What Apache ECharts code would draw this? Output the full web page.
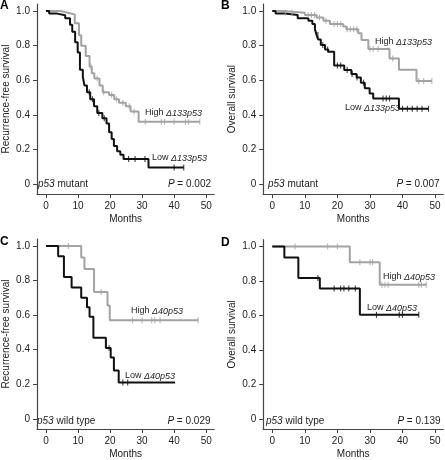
<!DOCTYPE html>
<html><head><meta charset="utf-8">
<script src="https://cdn.jsdelivr.net/npm/echarts@6/dist/echarts.min.js"></script>
<style>html,body{margin:0;padding:0;background:#fff}#c{width:445px;height:460px}</style>
</head><body><div id="c"></div><script>
// Tick labels
const monthTicks = [0, 10, 20, 30, 40, 50];
const survTicks = [0, 0.2, 0.4, 0.6, 0.8, 1.0];
const panelLetters = ['A', 'B', 'C', 'D'];
const yNames = ['Recurrence-free survival', 'Overall survival', 'Recurrence-free survival', 'Overall survival'];
const groupText = ['p53 mutant', 'p53 mutant', 'p53 wild type', 'p53 wild type'];
const pValues = ['0.002', '0.007', '0.029', '0.139'];
const highLabels = ['High \u0394133p53', 'High \u0394133p53', 'High \u039440p53', 'High \u039440p53'];
const lowLabels = ['Low \u0394133p53', 'Low \u0394133p53', 'Low \u039440p53', 'Low \u039440p53'];

// Panel A: recurrence-free survival, p53 mutant (time in months, survival)
const aHigh = [[0,1],[4.5,0.99],[6.8,0.98],[9,0.93],[10.3,0.86],[11,0.8],[12.4,0.74],[13.6,0.68],[14.3,0.64],[15.1,0.61],[16.7,0.57],[17.7,0.53],[19.7,0.515],[21.3,0.49],[22.8,0.47],[24.9,0.45],[26.4,0.42],[28.9,0.36],[48,0.36]];
const aHighCens = [14,16,18,20.5,22,24,26,27.5,31,36,37,40,43.5,44.5,48];
const aLow = [[0,1],[1,0.985],[3.5,0.975],[6,0.958],[7.5,0.92],[8.2,0.88],[9.1,0.82],[9.9,0.76],[10.6,0.66],[11.5,0.62],[12,0.57],[12.8,0.53],[13.8,0.49],[15,0.45],[16,0.41],[17.6,0.38],[18.9,0.35],[19.7,0.30],[20.5,0.26],[21.2,0.22],[22.2,0.19],[23.2,0.17],[24.2,0.145],[32,0.095],[43,0.095]];
const aLowCens = [13.5,14.5,16.5,18.2,25.8,27.8,30.9,40,43];

// Panel B: overall survival, p53 mutant
const bHigh = [[0,1],[3.4,0.99],[10,0.977],[13.6,0.963],[15.7,0.944],[17.7,0.925],[21.8,0.91],[22.8,0.894],[26.4,0.871],[27.4,0.833],[29.5,0.78],[36,0.725],[38.9,0.66],[44.3,0.595],[49,0.595]];
const bHighCens = [4,6,11,12,13,14.5,16.5,19,20,21,23,24,25,26,30,31,32.5,37,45,46.5,49];
const bLow = [[0,1],[1,0.985],[3.9,0.977],[7.8,0.958],[11.1,0.944],[12.3,0.925],[13.1,0.894],[13.6,0.861],[14.1,0.836],[14.9,0.803],[16.2,0.778],[17.2,0.765],[19,0.685],[22.1,0.659],[24.3,0.636],[25.9,0.616],[27.2,0.586],[28.4,0.553],[29.9,0.524],[31,0.495],[38.9,0.435],[48,0.435]];
const bLowCens = [14,15.5,17,20,21,23,24.5,26,28,34,35,36,40,41.5,43,44.5,46,48];

// Panel C: recurrence-free survival, p53 wild type
const cHigh = [[0,1],[11,0.933],[12,0.867],[15,0.733],[19.2,0.655],[19.9,0.571],[47.5,0.571]];
const cHighCens = [7,17.2,27,30,33,34,35.6,47.5];
const cLow = [[0,1],[3.8,0.94],[5.6,0.82],[8,0.76],[11,0.70],[12.8,0.645],[13.6,0.59],[14.8,0.47],[18.7,0.41],[20.2,0.355],[21.2,0.28],[22.7,0.21],[40.3,0.21]];
const cLowCens = [19.7,24,25.5];

// Panel D: overall survival, p53 wild type
const dHigh = [[0,1],[23.8,0.909],[33,0.778],[47.3,0.778]];
const dHighCens = [7,17,20,26.9,30,30.8,33.7,34.6,35.6,45,45.8,47.3];
const dLow = [[0,1],[3.7,0.937],[8,0.818],[14.6,0.757],[26.9,0.604],[45,0.604]];
const dLowCens = [14,19,21,22,23.5,25.5,32,39,40,45];

const highCurves = [aHigh, bHigh, cHigh, dHigh];
const lowCurves = [aLow, bLow, cLow, dLow];
const highCens = [aHighCens, bHighCens, cHighCens, dHighCens];
const lowCens = [aLowCens, bLowCens, cLowCens, dLowCens];

function survAt(curve, t) {
  let s = curve[0][1];
  for (const p of curve) { if (p[0] <= t + 1e-9) s = p[1]; }
  return s;
}

const GRAY = '#a3a3a3', BLACK = '#111111', AXIS = '#444444', TXT = '#222222';
const FONT = '"Liberation Sans", Arial, Helvetica, sans-serif';

const grids = [
  {left: 34.7, top: 4.1, width: 179.5, height: 190},
  {left: 263.2, top: 4.1, width: 180, height: 190},
  {left: 34.7, top: 239, width: 179.5, height: 192.2},
  {left: 263.2, top: 239.7, width: 180, height: 191.5}
];

const xAxes = [], yAxes = [], series = [];
for (let i = 0; i < 4; i++) {
  xAxes.push({
    gridIndex: i, type: 'value', min: -2.8, max: 52.5,
    axisLine: {show: true, onZero: false, lineStyle: {color: AXIS, width: 1.2}},
    axisTick: {show: true, length: 4, customValues: monthTicks, lineStyle: {color: AXIS, width: 1}},
    axisLabel: {show: true, customValues: monthTicks, fontSize: 10, color: TXT, margin: 7, fontFamily: FONT},
    splitLine: {show: false},
    name: 'Months', nameLocation: 'middle', nameGap: 20,
    nameTextStyle: {fontSize: 10, color: TXT, fontFamily: FONT}
  });
  yAxes.push({
    gridIndex: i, type: 'value', min: -0.058, max: 1.04,
    axisLine: {show: true, onZero: false, lineStyle: {color: AXIS, width: 1.2}},
    axisTick: {show: true, length: 4, customValues: survTicks, lineStyle: {color: AXIS, width: 1}},
    axisLabel: {show: true, customValues: survTicks, fontSize: 10, color: TXT, margin: 7, fontFamily: FONT,
      formatter: v => (Math.abs(v) < 1e-9 ? '0' : v.toFixed(1))},
    splitLine: {show: false},
    name: yNames[i], nameLocation: 'middle', nameGap: 26,
    nameTextStyle: {fontSize: 10, color: TXT, fontFamily: FONT}
  });
  const defs = [
    {curve: highCurves[i], cens: highCens[i], color: GRAY},
    {curve: lowCurves[i], cens: lowCens[i], color: BLACK}
  ];
  for (const d of defs) {
    series.push({
      type: 'line', xAxisIndex: i, yAxisIndex: i, step: 'end', data: d.curve,
      showSymbol: false, symbol: 'none', lineStyle: {color: d.color, width: 2}, silent: true, z: 3
    });
    series.push({
      type: 'scatter', xAxisIndex: i, yAxisIndex: i,
      data: d.cens.map(t => [t, survAt(d.curve, t)]),
      symbol: 'rect', symbolSize: [1.1, 6], itemStyle: {color: d.color}, silent: true, z: 4
    });
  }
}

// text annotations
const labelPos = [
  {hi: [145, 113], lo: [152, 158]},
  {hi: [375, 42], lo: [345, 108]},
  {hi: [131, 311], lo: [125, 376]},
  {hi: [383, 277], lo: [367, 308]}
];
const bottomPos = [
  {g: [38, 184], p: [211, 184]},
  {g: [268, 184], p: [439.5, 184]},
  {g: [37, 421], p: [210.5, 421]},
  {g: [266, 421], p: [440.5, 421]}
];
const letterPos = [[0, 0], [221, 0], [0, 236], [221, 237]];

const rich = {
  n: {fontSize: 9, fontFamily: FONT, fill: TXT},
  i: {fontSize: 9, fontFamily: FONT, fontStyle: 'italic', fill: TXT},
  N: {fontSize: 10, fontFamily: FONT, fill: TXT},
  I: {fontSize: 10, fontFamily: FONT, fontStyle: 'italic', fill: TXT}
};
function splitLabel(s) {
  const k = s.indexOf(' ');
  return '{n|' + s.slice(0, k + 1) + '}{i|' + s.slice(k + 1) + '}';
}
const graphic = [];
for (let i = 0; i < 4; i++) {
  graphic.push({type: 'text', x: letterPos[i][0], y: letterPos[i][1],
    style: {text: panelLetters[i], fontSize: 12, fontWeight: 'bold', fontFamily: FONT, fill: '#000', textVerticalAlign: 'top'}});
  graphic.push({type: 'text', x: labelPos[i].hi[0], y: labelPos[i].hi[1],
    style: {text: splitLabel(highLabels[i]), rich: rich, verticalAlign: 'middle', align: 'left'}});
  graphic.push({type: 'text', x: labelPos[i].lo[0], y: labelPos[i].lo[1],
    style: {text: splitLabel(lowLabels[i]), rich: rich, verticalAlign: 'middle', align: 'left'}});
  const g = groupText[i];
  const k = g.indexOf(' ');
  graphic.push({type: 'text', x: bottomPos[i].g[0], y: bottomPos[i].g[1],
    style: {text: '{I|' + g.slice(0, k) + '}{N|' + g.slice(k) + '}', rich: rich, verticalAlign: 'middle', align: 'left'}});
  graphic.push({type: 'text', x: bottomPos[i].p[0], y: bottomPos[i].p[1],
    style: {text: '{I|P}{N| = ' + pValues[i] + '}', rich: rich, verticalAlign: 'middle', align: 'right'}});
}

const chart = echarts.init(document.getElementById('c'), null, {renderer: 'canvas'});
chart.setOption({
  animation: false,
  backgroundColor: '#ffffff',
  grid: grids,
  xAxis: xAxes,
  yAxis: yAxes,
  series: series,
  graphic: graphic
});
</script></body></html>
